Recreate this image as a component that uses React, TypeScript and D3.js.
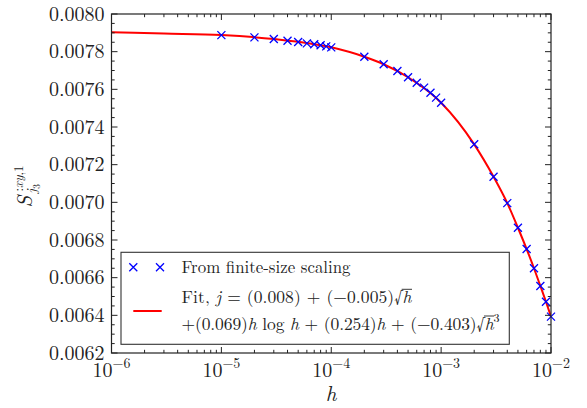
import React, { useLayoutEffect, useRef, useState } from "react";
import * as d3 from "d3";

const W = 587;
const H = 408;

// data
const pointH = [
  1e-5, 2e-5, 3e-5, 4e-5, 5e-5, 6e-5, 7e-5, 8e-5, 9e-5,
  1e-4, 2e-4, 3e-4, 4e-4, 5e-4, 6e-4, 7e-4, 8e-4, 9e-4,
  1e-3, 2e-3, 3e-3, 4e-3, 5e-3, 6e-3, 7e-3, 8e-3, 9e-3, 1e-2,
];
const pointS = [
  0.007888, 0.007876, 0.007867, 0.007858, 0.007851, 0.007844, 0.007839, 0.007834, 0.007828,
  0.007823, 0.007773, 0.007733, 0.007697, 0.007664, 0.007635, 0.007609, 0.007582, 0.007556,
  0.007529, 0.007308, 0.007136, 0.006996, 0.006865, 0.006752, 0.00665, 0.006556, 0.006472, 0.006393,
];
const fitH = [1e-6, 3e-6, 1e-5, 3e-5, 1e-4, 2e-4, 3e-4, 5e-4, 1e-3, 2e-3, 3e-3, 4e-3, 5e-3, 6e-3, 7e-3, 8e-3, 9e-3, 1e-2];
const fitS = [0.007903, 0.007896, 0.007888, 0.007867, 0.007823, 0.007773, 0.007733, 0.007664, 0.007529, 0.007308, 0.007136, 0.006996, 0.006865, 0.006752, 0.00665, 0.006556, 0.006472, 0.006393];

const xMajorExps = [-6, -5, -4, -3, -2];
const yTickValues = [0.0062, 0.0064, 0.0066, 0.0068, 0.007, 0.0072, 0.0074, 0.0076, 0.0078, 0.008];

const legendPoints = "From finite-size scaling";

const FONT = "'Latin Modern Roman', 'CMU Serif', 'Liberation Serif', serif";
const INK = "#222";
const SQRT = "\u221A";
const MINUS = "\u2212";

type Over = { x1: number; x2: number; y: number };

export default function App() {
  const left = 111.5, right = 551, top = 14, bottom = 353;
  const x = d3.scaleLog().domain([1e-6, 1e-2]).range([left, right]);
  const y = d3.scaleLinear().domain([0.0062, 0.008]).range([bottom, top]);

  const xMinor: number[] = [];
  for (let e = -6; e < -2; e++) for (let k = 2; k <= 9; k++) xMinor.push(k * Math.pow(10, e));
  const yMinor: number[] = d3
    .range(0, 37)
    .map((i) => 0.0062 + i * 0.00005)
    .filter((v) => Math.abs(Math.round(v / 0.0002) * 0.0002 - v) > 1e-9);

  const line = d3
    .line<number>()
    .x((_, i) => x(fitH[i]))
    .y((d) => y(d))
    .curve(d3.curveMonotoneX);

  const cross = (cx: number, cy: number, key: string | number, r = 4) => (
    <path
      key={key}
      d={`M${cx - r},${cy - r}L${cx + r},${cy + r}M${cx - r},${cy + r}L${cx + r},${cy - r}`}
      stroke="#0000ff"
      strokeWidth={1.3}
      fill="none"
    />
  );

  const major = 6, minor = 3.2;
  const fs = 17.5;
  const base1 = 303.3, base2 = 330;

  const ref1 = useRef<SVGTextElement>(null);
  const ref2 = useRef<SVGTextElement>(null);
  const [overs, setOvers] = useState<Over[]>([]);

  useLayoutEffect(() => {
    const out: Over[] = [];
    [[ref1, base1], [ref2, base2]].forEach(([r, b]: any) => {
      const el = r.current as SVGTextElement | null;
      if (!el) return;
      const txt = el.textContent || "";
      const idx = txt.indexOf(SQRT);
      if (idx < 0) return;
      try {
        const s = el.getEndPositionOfChar(idx);
        const e = el.getEndPositionOfChar(idx + 1);
        out.push({ x1: s.x - 0.8, x2: e.x + 0.5, y: b - 0.8 * fs });
      } catch (err) {
        /* ignore */
      }
    });
    setOvers(out);
  }, []);

  return (
    <svg width={W} height={H} style={{ position: "absolute", left: 0, top: 0, background: "#fff" }} fontFamily={FONT}>
      <rect x={0} y={0} width={W} height={H} fill="#fff" />
      <defs>
        <clipPath id="plotclip">
          <rect x={left} y={top} width={right - left} height={bottom - top} />
        </clipPath>
      </defs>

      {/* fit curve */}
      <path d={line(fitS) || ""} fill="none" stroke="#ff0000" strokeWidth={2} clipPath="url(#plotclip)" />
      {/* points */}
      {pointH.map((h, i) => cross(x(h), y(pointS[i]), i))}

      {/* frame */}
      <rect x={left} y={top} width={right - left} height={bottom - top} fill="none" stroke={INK} strokeWidth={1.2} />
      {/* x ticks */}
      {xMajorExps.map((e) => {
        const px = x(Math.pow(10, e));
        return (
          <g key={"xm" + e}>
            <line x1={px} x2={px} y1={bottom} y2={bottom - major} stroke={INK} strokeWidth={1} />
            <line x1={px} x2={px} y1={top} y2={top + major} stroke={INK} strokeWidth={1} />
            <text x={px} y={377} textAnchor="middle" fontSize={20} fill={INK}>
              10
              <tspan dy={-9} fontSize={14}>{MINUS + Math.abs(e)}</tspan>
            </text>
          </g>
        );
      })}
      {xMinor.map((v, i) => {
        const px = x(v);
        return (
          <g key={"xn" + i}>
            <line x1={px} x2={px} y1={bottom} y2={bottom - minor} stroke={INK} strokeWidth={1} />
            <line x1={px} x2={px} y1={top} y2={top + minor} stroke={INK} strokeWidth={1} />
          </g>
        );
      })}
      {/* y ticks */}
      {yTickValues.map((v) => {
        const py = y(v);
        return (
          <g key={"ym" + v}>
            <line x1={left} x2={left + major} y1={py} y2={py} stroke={INK} strokeWidth={1} />
            <line x1={right} x2={right - major} y1={py} y2={py} stroke={INK} strokeWidth={1} />
            <text x={104.5} y={py + 6.8} textAnchor="end" fontSize={20} fill={INK}>
              {v.toFixed(4)}
            </text>
          </g>
        );
      })}
      {yMinor.map((v, i) => {
        const py = y(v);
        return (
          <g key={"yn" + i}>
            <line x1={left} x2={left + minor} y1={py} y2={py} stroke={INK} strokeWidth={1} />
            <line x1={right} x2={right - minor} y1={py} y2={py} stroke={INK} strokeWidth={1} />
          </g>
        );
      })}

      {/* axis labels */}
      <text x={331} y={401} textAnchor="middle" fontSize={21} fontStyle="italic" fill={INK}>h</text>
      <g transform={`translate(32,${(top + bottom) / 2}) rotate(-90)`} fill={INK}>
        <text x={-24} y={0} fontSize={21} fontStyle="italic">S</text>
        <text x={-10} y={4} fontSize={14} fontStyle="italic">j</text>
        <text x={-5.5} y={7.5} fontSize={10}>3</text>
        <text x={-8} y={-9} fontSize={13}>
          :<tspan fontStyle="italic">xy</tspan>,1
        </text>
      </g>

      {/* legend */}
      <rect x={121} y={252.3} width={388.3} height={92} fill="#fff" stroke="#333" strokeWidth={1.1} />
      {cross(133.3, 267.3, "l1")}
      {cross(160, 267.3, "l2")}
      <line x1={133.3} x2={161.7} y1={311} y2={311} stroke="#ff0000" strokeWidth={2} />
      <text x={181.5} y={273.3} fontSize={fs} fill={INK} textLength={169} lengthAdjust="spacingAndGlyphs">
        {legendPoints}
      </text>
      <text ref={ref1} x={181.5} y={base1} fontSize={fs} fill={INK} textLength={230} lengthAdjust="spacing">
        {"Fit, "}
        <tspan fontStyle="italic">j</tspan>
        {" = (0.008) + (" + MINUS + "0.005)" + SQRT}
        <tspan fontStyle="italic">h</tspan>
      </text>
      <text ref={ref2} x={181.5} y={base2} fontSize={fs} fill={INK} textLength={318} lengthAdjust="spacing">
        {"+(0.069)"}
        <tspan fontStyle="italic">h</tspan>
        {" log "}
        <tspan fontStyle="italic">h</tspan>
        {" + (0.254)"}
        <tspan fontStyle="italic">h</tspan>
        {" + (" + MINUS + "0.403)" + SQRT}
        <tspan fontStyle="italic">h</tspan>
        <tspan dy={-8} fontSize={12}>3</tspan>
      </text>
      {/* radical overlines */}
      {overs.map((o, i) => (
        <line key={"ov" + i} x1={o.x1} x2={o.x2} y1={o.y} y2={o.y} stroke={INK} strokeWidth={0.9} />
      ))}
    </svg>
  );
}
